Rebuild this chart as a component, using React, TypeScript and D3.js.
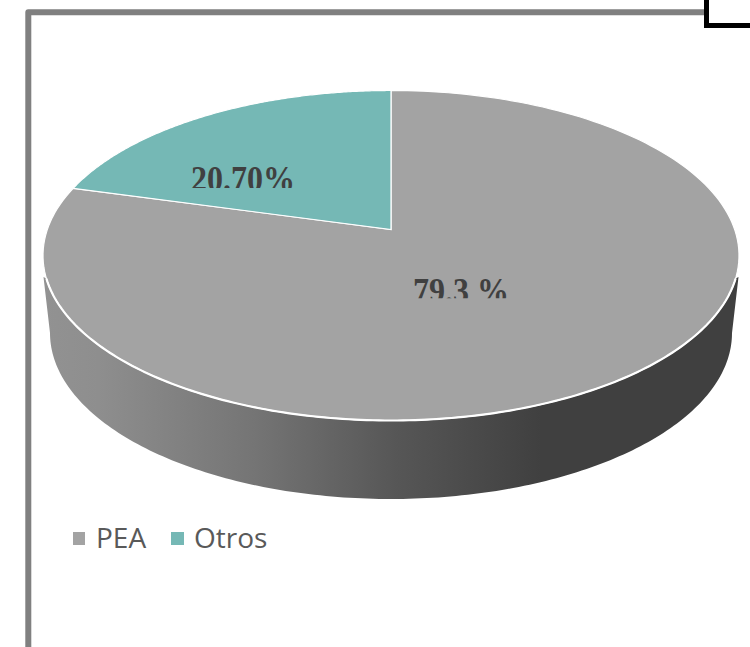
import React from "react";
import * as d3 from "d3";

const categories = ["PEA", "Otros"];
const values = [79.3, 20.7];
const labels = ["79.3 %", "20.70%"];
const colors = ["#a3a3a3", "#75b8b5"];

const W = 750, H = 647;
const cx = 391, cy = 255.5, rx = 348, ry = 165;
const apexY = 229.5;
const cb = 391, cyB = 333, rxB = 341, ryB = 166;
const k = Math.tan(Math.acos((cy - apexY) / ry) / 2);

function warp(theta: number): [number, number] {
  // perspective mapping: angle on the true circle -> point on the drawn ellipse
  const t = Math.atan2(k * Math.sin(theta / 2), Math.cos(theta / 2)) * 2;
  return [cx + rx * Math.sin(t), cy - ry * Math.cos(t)];
}

export default function App() {
  const pie = d3.pie<number>().sort(null).startAngle(0).endAngle(2 * Math.PI);
  const arcs = pie(values);
  const line = d3.line();
  const wedge = (s: number, e: number) => {
    const pts: [number, number][] = d3.range(0, 181).map((i) => warp(s + ((e - s) * i) / 180));
    return line([[cx, apexY], ...pts]) + "Z";
  };
  const sideTop = d3.range(8, 173).map((i): [number, number] => {
    const a = (Math.PI * i) / 180;
    return [cx + rx * Math.cos(a), cy + ry * Math.sin(a)];
  });
  const sideBottom = d3.range(180, -1, -1).map((i): [number, number] => {
    const a = (Math.PI * i) / 180;
    return [cb + rxB * Math.cos(a), cyB + ryB * Math.sin(a)];
  });
  const wall: [number, number][] = [
    [738.5, 277],
    ...sideBottom.slice().reverse(),
    [43.5, 277],
    ...sideTop.slice().reverse(),
  ];
  const x = d3.scaleLinear().domain([0, 1]).range([43, 739]);
  return (
    <svg width={W} height={H} style={{ position: "absolute", left: 0, top: 0, background: "#fff" }}>
      <defs>
        <linearGradient id="side" gradientUnits="userSpaceOnUse" x1={x(0)} x2={x(1)} y1={0} y2={0}>
          <stop offset="0" stopColor="#929292" />
          <stop offset="0.08" stopColor="#8e8e8e" />
          <stop offset="0.3" stopColor="#757575" />
          <stop offset="0.51" stopColor="#565656" />
          <stop offset="0.715" stopColor="#404040" />
          <stop offset="1" stopColor="#404040" />
        </linearGradient>
        <clipPath id="clipA"><rect x={150} y={150} width={200} height={38} /></clipPath>
        <clipPath id="clipB"><rect x={380} y={260} width={170} height={38.3} /></clipPath>
      </defs>
      <path d="M28.3 647V12.2H706" fill="none" stroke="#808080" strokeWidth={6} strokeLinejoin="round" />
      <path d="M706.5 0V25.5H750" fill="none" stroke="#000" strokeWidth={5} />
      <path d={line(wall) + "Z"} fill="url(#side)" />
      {arcs.map((a, i) => (
        <path key={categories[i]} d={wedge(a.startAngle, a.endAngle)} fill={colors[i]} stroke="#fff" strokeWidth={1.2} strokeLinejoin="miter" />
      ))}
      <path d={line(sideTop)!} fill="none" stroke="#fff" strokeWidth={2.2} />
      <g clipPath="url(#clipA)">
        <text transform="translate(243,190.5) scale(1,1.1)" textAnchor="middle" fontFamily="Liberation Serif" fontWeight="bold" fontSize={32} fill="#404040">{labels[1]}</text>
      </g>
      <g clipPath="url(#clipB)">
        <text transform="translate(461,302.5) scale(1,1.1)" textAnchor="middle" fontFamily="Liberation Serif" fontWeight="bold" fontSize={32} fill="#404040">{labels[0]}</text>
      </g>
      <rect x={73} y={532} width={12} height={13} fill={colors[0]} />
      <text x={96} y={548} fontFamily="Open Sans" fontSize={28} fill="#595959">{categories[0]}</text>
      <rect x={171} y={532} width={13} height={13} fill={colors[1]} />
      <text x={194} y={548} fontFamily="Open Sans" fontSize={28} fill="#595959">{categories[1]}</text>
    </svg>
  );
}
